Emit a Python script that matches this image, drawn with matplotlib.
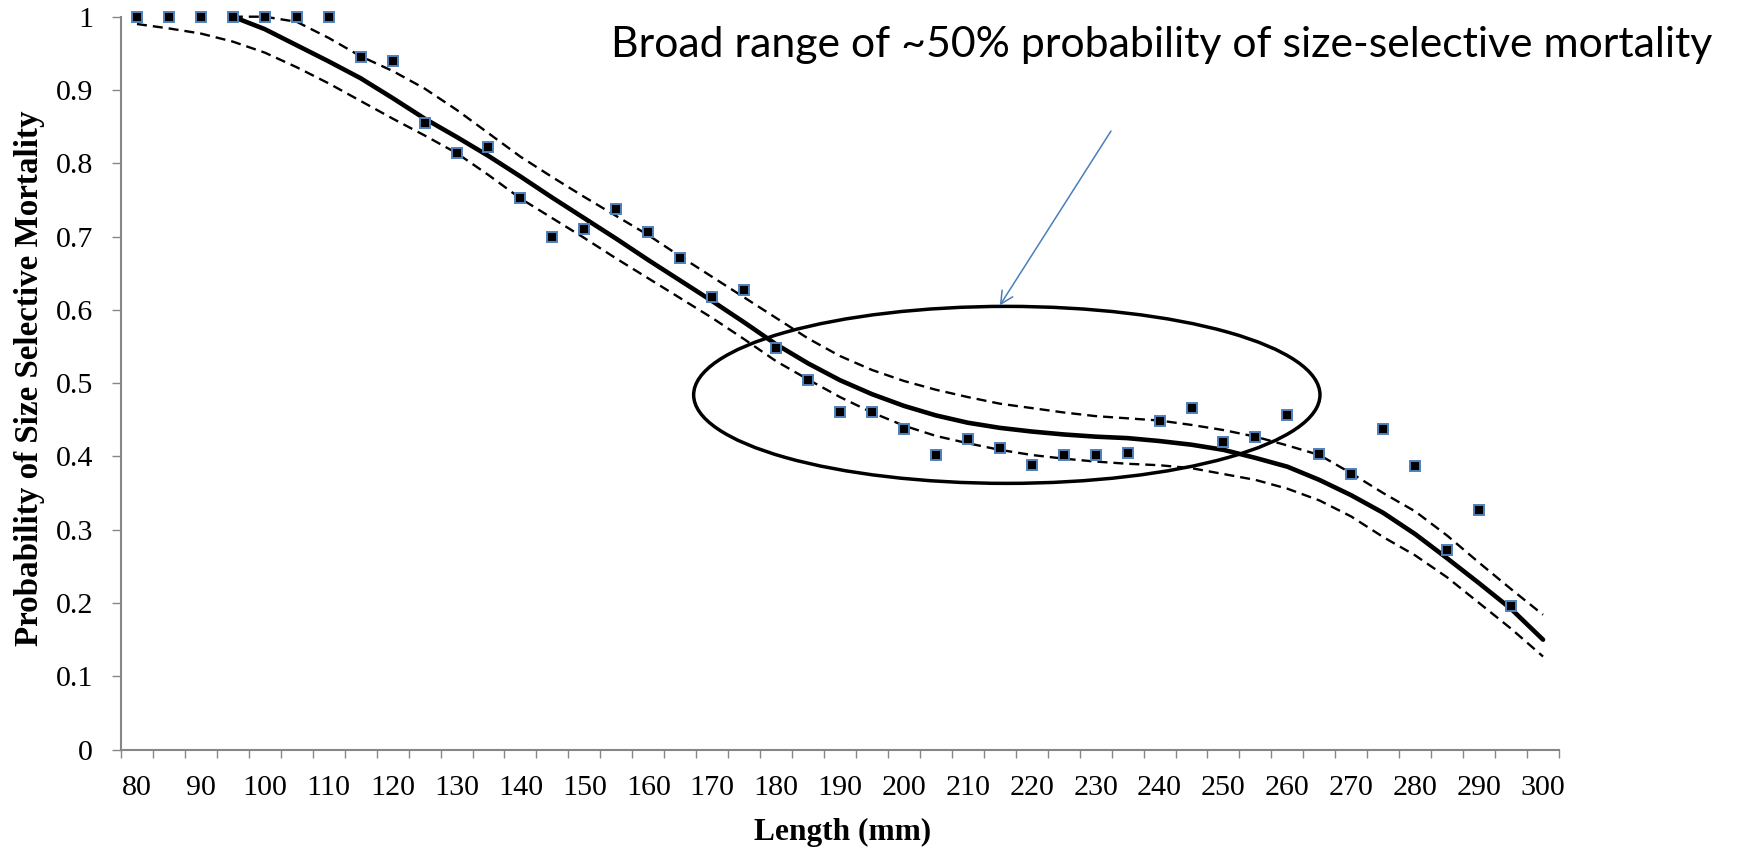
import numpy as np
import matplotlib
matplotlib.use("Agg")
import matplotlib.pyplot as plt
from matplotlib.patches import Ellipse

nan = np.nan

# ---- data -------------------------------------------------------------
lengths = list(range(80, 301, 5))          # category axis, mm
observed = [1.0, 1.0, 1.0, 1.0, 1.0, 1.0, 1.0,
            0.945, 0.939, 0.855, 0.814, 0.822, 0.752, 0.700, 0.711, 0.737,
            0.706, 0.671, 0.618, 0.627, 0.548, 0.504, 0.460, 0.460, 0.437,
            0.402, 0.424, 0.411, 0.388, 0.402, 0.402, 0.405, 0.449, 0.466,
            0.420, 0.427, 0.457, 0.403, 0.376, 0.437, 0.387, 0.273, 0.327,
            0.196, nan]
fitted = [nan, nan, nan, 1.0, 0.983, 0.961, 0.939, 0.916, 0.889, 0.861,
          0.836, 0.810, 0.782, 0.753, 0.725, 0.697, 0.668, 0.640, 0.612,
          0.583, 0.553, 0.527, 0.504, 0.485, 0.469, 0.456, 0.446, 0.439,
          0.434, 0.430, 0.427, 0.425, 0.421, 0.416, 0.409, 0.398, 0.386,
          0.368, 0.347, 0.323, 0.294, 0.261, 0.227, 0.192, 0.150]
upper = [nan, nan, nan, 1.0, 1.0, 0.993, 0.971, 0.946, 0.926, 0.902,
         0.873, 0.841, 0.809, 0.781, 0.754, 0.728, 0.702, 0.673, 0.645,
         0.617, 0.589, 0.561, 0.537, 0.518, 0.503, 0.491, 0.481, 0.472,
         0.466, 0.460, 0.455, 0.452, 0.449, 0.443, 0.436, 0.427, 0.415,
         0.402, 0.377, 0.350, 0.325, 0.292, 0.255, 0.219, 0.184]
lower = [0.990, 0.984, 0.977, 0.966, 0.951, 0.931, 0.909, 0.885, 0.861,
         0.838, 0.814, 0.784, 0.752, 0.725, 0.698, 0.670, 0.643, 0.616,
         0.589, 0.560, 0.530, 0.505, 0.481, 0.460, 0.442, 0.428, 0.418,
         0.409, 0.402, 0.397, 0.393, 0.390, 0.388, 0.384, 0.376, 0.368,
         0.356, 0.340, 0.318, 0.290, 0.265, 0.235, 0.200, 0.165, 0.127]
y_ticks = [0, 0.1, 0.2, 0.3, 0.4, 0.5, 0.6, 0.7, 0.8, 0.9, 1]
y_ticklabels = ["0", "0.1", "0.2", "0.3", "0.4", "0.5", "0.6", "0.7", "0.8", "0.9", "1"]
x_label = "Length (mm)"
y_label = "Probability of Size Selective Mortality"
note = "Broad range of ~50% probability of size-selective mortality"

# ---- figure -----------------------------------------------------------
plt.rcParams["lines.scale_dashes"] = False
W, H, DPI = 1749, 849, 100
fig = plt.figure(figsize=(W / DPI, H / DPI), dpi=DPI)
ax = fig.add_axes([121 / W, 1 - 749.6 / H, (1559 - 121) / W, (749.6 - 16.7) / H])

pos = np.arange(len(lengths))
axis_grey = "#868686"
marker_edge = "#4F81BD"

ax.plot(pos, upper, color="black", lw=1.7, ls=(0, (7.2, 4.3)),
        dash_capstyle="butt", clip_on=False, zorder=2)
ax.plot(pos, lower, color="black", lw=1.7, ls=(0, (7.2, 4.3)),
        dash_capstyle="butt", clip_on=False, zorder=2)
ax.plot(pos, fitted, color="black", lw=3.3, solid_capstyle="round",
        solid_joinstyle="round", clip_on=False, zorder=3)
ax.plot(pos, observed, ls="none", marker="s", ms=7.2, mfc="black",
        mec=marker_edge, mew=1.4, clip_on=False, zorder=4)

ax.set_xlim(-0.5, len(lengths) - 0.5)
ax.set_ylim(0, 1)

# y axis
ax.set_yticks(y_ticks)
ax.set_yticklabels(y_ticklabels)
ax.tick_params(axis="y", direction="out", length=6.5, width=1.0,
               color=axis_grey, pad=13.5, labelsize=21.6)

# x axis: tick marks on category boundaries, labels every other category
ax.set_xticks(np.arange(-0.5, len(lengths), 1.0))
ax.set_xticklabels([])
ax.set_xticks(pos[::2], minor=True)
ax.set_xticklabels([str(v) for v in lengths[::2]], minor=True)
ax.tick_params(axis="x", which="major", direction="out", length=6.0,
               width=1.0, color=axis_grey)
ax.tick_params(axis="x", which="minor", length=0, pad=18, labelsize=21.6)

for lab in ax.get_xticklabels(minor=True) + ax.get_yticklabels():
    lab.set_fontfamily("Liberation Serif")

for s in ["top", "right"]:
    ax.spines[s].set_visible(False)
for s in ["left", "bottom"]:
    ax.spines[s].set_color(axis_grey)
    ax.spines[s].set_linewidth(1.5)

# axis titles
xl = fig.text(843 / W, 1 - 840 / H, x_label, ha="center", va="baseline",
              family="Liberation Serif", weight="bold", fontsize=21.7)
yl = fig.text(30 / W, 1 - 378 / H, y_label, ha="center", va="center",
              rotation=90, family="Liberation Serif", weight="bold",
              fontsize=23.5)

# annotation: ellipse + arrow + note
ell = Ellipse((27.22, 0.484), width=19.6, height=0.2415, fill=False,
              ec="black", lw=2.5, zorder=5, clip_on=False)
ax.add_patch(ell)
ax.annotate("", xy=(27.0, 0.606), xytext=(30.48, 0.844),
            arrowprops=dict(arrowstyle="->,head_length=0.9,head_width=0.45",
                            color="#4A7EBB", lw=1.1, shrinkA=0, shrinkB=0),
            annotation_clip=False, zorder=6)
tt = fig.text(1161.5 / W, 1 - 57 / H, note, ha="center", va="baseline",
              family=["Liberation Sans Narrow", "Lato"], fontsize=30)

# fit text lengths to the reference
fig.canvas.draw()
r = fig.canvas.get_renderer()
for t, target, dim in [(tt, 1101, "w"), (yl, 535, "h"), (xl, 177, "w")]:
    bb = t.get_window_extent(r)
    cur = bb.width if dim == "w" else bb.height
    t.set_fontsize(t.get_fontsize() * target / cur)

fig.savefig("out.png", dpi=DPI, facecolor="white")
